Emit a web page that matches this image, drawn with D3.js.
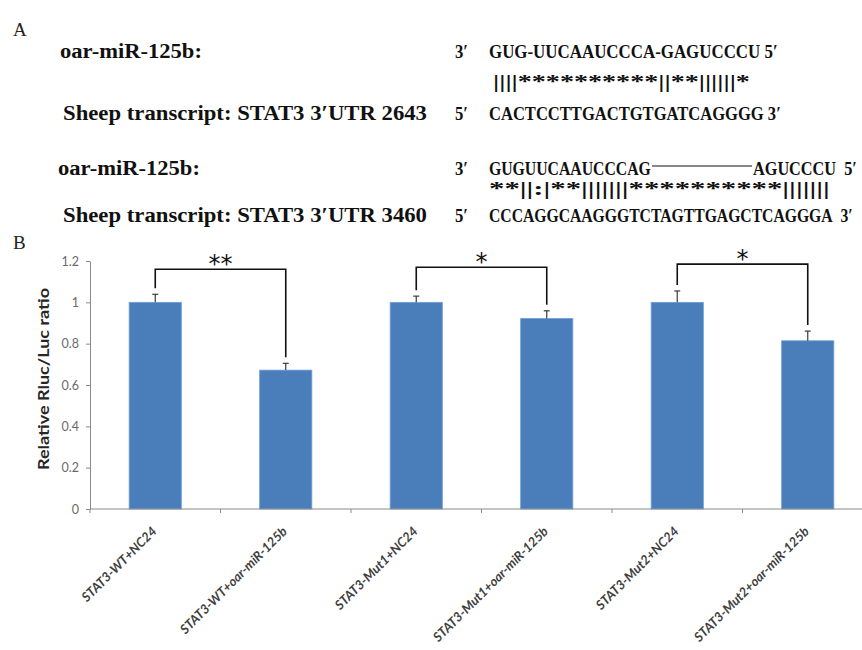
<!DOCTYPE html>
<html>
<head>
<meta charset="utf-8">
<script src="https://cdn.jsdelivr.net/npm/d3@7"></script>
<style>
  html, body { margin: 0; padding: 0; background: #fff; }
  svg { display: block; }
</style>
</head>
<body>
<svg id="fig" width="862" height="650"></svg>
<script>
// ---- Panel B data: dual-luciferase reporter assay ----
const categories = [
  "STAT3-WT+NC24",
  "STAT3-WT+oar-miR-125b",
  "STAT3-Mut1+NC24",
  "STAT3-Mut1+oar-miR-125b",
  "STAT3-Mut2+NC24",
  "STAT3-Mut2+oar-miR-125b"
];
const ratios = [1.0, 0.672, 1.0, 0.922, 1.0, 0.814];
const errors = [0.039, 0.033, 0.030, 0.037, 0.055, 0.047];
const yTickValues = [0, 0.2, 0.4, 0.6, 0.8, 1, 1.2];
const yTitle = "Relative Rluc/Luc ratio";

// significance comparisons (bar index pairs, mark, bracket level in ratio units)
const compFrom = [0, 2, 4];
const compTo = [1, 3, 5];
const compMarks = ["**", "*", "*"];
const compLevels = [1.16, 1.17, 1.185];

// ---- Panel A data: predicted binding sites ----
const mirLabel = "oar-miR-125b:";
const transcriptLabels = [
  "Sheep transcript: STAT3 3\u2032UTR 2643",
  "Sheep transcript: STAT3 3\u2032UTR 3460"
];
const mirSeqs = [["GUG-UUCAAUCCCA-GAGUCCCU"], ["GUGUUCAAUCCCAG", "AGUCCCU"]];
const pairings = ["||||**********||**||||||*", "**||:|**|||||||**********|||||||"];
const targetSeqs = ["CACTCCTTGACTGTGATCAGGGG", "CCCAGGCAAGGGTCTAGTTGAGCTCAGGGA"];

const svg = d3.select("#fig");
svg.append("rect").attr("width", 862).attr("height", 650).attr("fill", "#fff");

// ---------------- Panel A ----------------
const serif = "'Liberation Serif', 'Times New Roman', serif";
svg.append("text").attr("x", 13).attr("y", 36)
  .attr("font-family", serif).attr("font-size", 19).attr("fill", "#222").text("A");
svg.append("text").attr("x", 13).attr("y", 249)
  .attr("font-family", serif).attr("font-size", 19).attr("fill", "#222").text("B");

const A = svg.append("g").attr("font-family", serif).attr("font-weight", "bold").attr("fill", "#111");

// places a string so that it spans exactly `len` pixels, squeezing it horizontally
function fitText(g, str, x, y, len, size) {
  const holder = g.append("g");
  const t = holder.append("text").attr("x", 0).attr("y", 0)
    .attr("font-size", size).text(str);
  const natural = t.node().getComputedTextLength();
  holder.attr("transform", `translate(${x},${y}) scale(${len / natural},1)`);
  return t;
}
const NB = "\u00a0";

// block rows: [mir baseline, pairing baseline, target baseline]
const blocks = [
  { mirY: 58, pairY: 88, tgtY: 120, mirX: 60, tgtX: 63 },
  { mirY: 175, pairY: 195, tgtY: 222, mirX: 58, tgtX: 63 }
];

blocks.forEach((b, i) => {
  fitText(A, mirLabel, b.mirX, b.mirY, 142, 22);
  fitText(A, transcriptLabels[i], b.tgtX, b.tgtY, 364, 22);
  // prime markers
  fitText(A, "3\u2032", 455, b.mirY, 13, 19);
  fitText(A, "5\u2032", 455, b.tgtY, 13, 19);
});

// block 1 sequences
fitText(A, mirSeqs[0][0] + NB + "5\u2032", 489, blocks[0].mirY, 289, 19);
fitText(A, pairings[0], 493, blocks[0].pairY, 257, 19);
fitText(A, targetSeqs[0] + NB + "3\u2032", 489, blocks[0].tgtY, 292, 19);

// block 2 sequences (bulge drawn as a line)
fitText(A, mirSeqs[1][0], 489, blocks[1].mirY, 162, 19);
A.append("line").attr("x1", 652).attr("x2", 752)
  .attr("y1", blocks[1].mirY - 9).attr("y2", blocks[1].mirY - 9)
  .attr("stroke", "#111").attr("stroke-width", 1.2);
fitText(A, mirSeqs[1][1] + NB + NB + "5\u2032", 753, blocks[1].mirY, 104, 19);
fitText(A, pairings[1], 489, blocks[1].pairY, 341, 19);
fitText(A, targetSeqs[1] + NB + NB + "3\u2032", 489, blocks[1].tgtY, 364, 19);

// ---------------- Panel B ----------------
const sans = "Lato, 'Open Sans', 'Liberation Sans', sans-serif";
const plot = { left: 90, right: 873, top: 261, bottom: 509 };

const x = d3.scaleBand()
  .domain(categories)
  .range([plot.left, plot.right])
  .paddingInner(0.6)
  .paddingOuter(0.3);
const y = d3.scaleLinear().domain([0, 1.2]).range([plot.bottom, plot.top]);

const B = svg.append("g");

// y axis
const yAxis = B.append("g")
  .attr("transform", `translate(${plot.left},0)`)
  .call(d3.axisLeft(y).tickValues(yTickValues).tickSize(4).tickSizeOuter(0).tickPadding(7)
    .tickFormat(d => String(d)));
yAxis.select(".domain").attr("stroke", "#8a8a8a");
yAxis.selectAll(".tick line").attr("stroke", "#8a8a8a");
yAxis.selectAll(".tick text")
  .attr("font-family", sans).attr("font-size", 12.5).attr("fill", "#6a6a6a");

// bars
const cx = d => x(d) + x.bandwidth() / 2;
B.selectAll("rect.bar").data(categories).join("rect")
  .attr("class", "bar")
  .attr("x", d => x(d))
  .attr("width", x.bandwidth())
  .attr("y", (d, i) => y(ratios[i]))
  .attr("height", (d, i) => y(0) - y(ratios[i]))
  .attr("fill", "#4a7ebb")
  .attr("stroke", "#6fa0d8").attr("stroke-width", 0.8);

// x axis baseline and category separators
const xAxisG = B.append("g").attr("stroke", "#8a8a8a");
xAxisG.append("line")
  .attr("x1", plot.left).attr("x2", plot.right)
  .attr("y1", y(0)).attr("y2", y(0)).attr("stroke-width", 1.2);
const gap = (x.step() - x.bandwidth()) / 2;
const boundaries = categories.map(c => x(c) - gap).concat([x(categories[categories.length - 1]) + x.bandwidth() + gap]);
xAxisG.selectAll("line.sep").data(boundaries).join("line")
  .attr("class", "sep")
  .attr("x1", d => d).attr("x2", d => d)
  .attr("y1", y(0)).attr("y2", y(0) + 4);

// error bars (upper)
const eb = B.append("g").attr("stroke", "#3a3a3a").attr("stroke-width", 1.2);
categories.forEach((c, i) => {
  const top = y(ratios[i] + errors[i]);
  eb.append("line").attr("x1", cx(c)).attr("x2", cx(c))
    .attr("y1", y(ratios[i])).attr("y2", top);
  eb.append("line").attr("x1", cx(c) - 3).attr("x2", cx(c) + 3)
    .attr("y1", top).attr("y2", top);
});

// category labels
B.selectAll("text.cat").data(categories).join("text")
  .attr("class", "cat")
  .attr("transform", d => `translate(${cx(d) - 1},${y(0) + 20}) rotate(-45)`)
  .attr("text-anchor", "end")
  .attr("dy", "0.35em")
  .attr("font-family", sans).attr("font-weight", "bold").attr("font-style", "italic")
  .attr("font-size", 13).attr("fill", "#404040")
  .text(d => d);

// y axis title
B.append("text")
  .attr("transform", `translate(49,379) rotate(-90)`)
  .attr("text-anchor", "middle")
  .attr("font-family", sans).attr("font-weight", "bold")
  .attr("font-size", 15)
  .attr("textLength", 182).attr("lengthAdjust", "spacingAndGlyphs")
  .attr("fill", "#262626")
  .text(yTitle);

// significance brackets
const br = B.append("g");
compFrom.forEach((a, k) => {
  const b = compTo[k];
  const xa = cx(categories[a]), xb = cx(categories[b]);
  const yTop = y(compLevels[k]);
  const legA = y(ratios[a] + errors[a]) - 6;
  const legB = y(ratios[b] + errors[b]) - 6;
  br.append("path")
    .attr("d", `M${xa},${legA}V${yTop}H${xb}V${legB}`)
    .attr("fill", "none").attr("stroke", "#111").attr("stroke-width", 1.6);
  br.append("text")
    .attr("x", (xa + xb) / 2).attr("y", yTop + 3)
    .attr("text-anchor", "middle")
    .attr("font-family", "'DejaVu Sans', sans-serif")
    .attr("font-size", 24).attr("fill", "#111")
    .text(compMarks[k]);
});
</script>
</body>
</html>
